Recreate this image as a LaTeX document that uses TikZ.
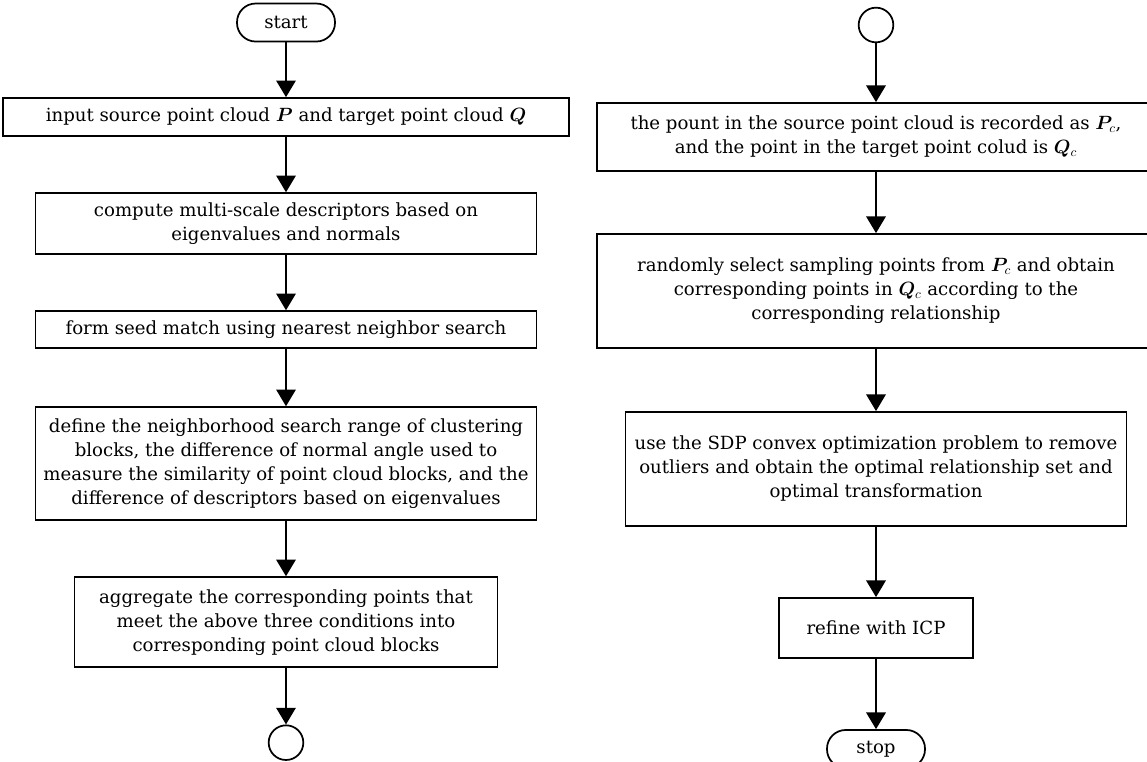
\documentclass[tikz,border=0pt]{standalone}
\usepackage{bm}
\usepackage{fontspec}
\setmainfont{DejaVu Serif}
\usepackage{tikz}
\usetikzlibrary{shapes,arrows.meta,calc}
\tikzstyle{line} = [draw, line width=1.7pt, -{Triangle[width=14.5pt,length=12.5pt]}]
\tikzstyle{block} = [draw, line width=1.3pt, rectangle, align=center, inner sep=0pt, font=\fontsize{13.6}{18}\selectfont]
\tikzstyle{cloud} = [draw, line width=1.3pt, rectangle, rounded corners=14pt, minimum width=73.5pt, minimum height=28.5pt, inner sep=0pt, font=\fontsize{13.6}{18}\selectfont]
\tikzstyle{joint} = [draw, line width=1.3pt, circle, minimum size=26pt, inner sep=0pt]

\begin{document}
\begin{tikzpicture}[auto]
    \useasboundingbox (0,0) rectangle (860.25pt,-571.5pt);
        % left column
        \node[cloud] (origin) at (214.5pt,-16.9pt) {start};
        \node[block, below of=origin, node distance=70.9pt, minimum width=424.5pt, minimum height=28.5pt] (input) {input source point cloud $\bm{P}$ and target point cloud $\bm{Q}$};
        \node[block, below of=input, node distance=79.9pt, minimum width=375.75pt, minimum height=45.75pt] (descr) {compute multi-scale descriptors based on\\eigenvalues and normals};
        \node[block, below of=descr, node distance=79.5pt, minimum width=375.75pt, minimum height=27.75pt] (seed) {form seed match using nearest neighbor search};
        \node[block, below of=seed, node distance=100.5pt, minimum width=375.75pt, minimum height=84.75pt] (range) {define the neighborhood search range of clustering\\blocks, the difference of normal angle used to\\measure the similarity of point cloud blocks, and the\\difference of descriptors based on eigenvalues};
        \node[block, below of=range, node distance=118.9pt, minimum width=317.25pt, minimum height=67.5pt] (aggr) {aggregate the corresponding points that\\meet the above three conditions into\\corresponding point cloud blocks};
        \node[joint, below of=aggr, node distance=90.4pt] (linkout) {};
        % right column
        \node[joint] (linkin) at (657pt,-18.75pt) {};
        \node[block, below of=linkin, node distance=84pt, minimum width=418.5pt, minimum height=51pt] (record) {the pount in the source point cloud is recorded as $\bm{P}_{c}$,\\and the point in the target point colud is $\bm{Q}_{c}$};
        \node[block, below of=record, node distance=115.5pt, minimum width=418.5pt, minimum height=85.5pt] (sample) {randomly select sampling points from $\bm{P}_{c}$ and obtain\\corresponding points in $\bm{Q}_{c}$ according to the\\corresponding relationship};
        \node[block, below of=sample, node distance=133.5pt, minimum width=375.75pt, minimum height=85.5pt] (sdp) {use the SDP convex optimization problem to remove\\outliers and obtain the optimal relationship set and\\optimal transformation};
        \node[block, below of=sdp, node distance=119.25pt, minimum width=145.5pt, minimum height=45pt] (icp) {refine with ICP};
        \node[cloud, below of=icp, node distance=90.75pt] (stop) {stop};
        \path[line] (origin) -- (input);
        \path[line] (input) -- (descr);
        \path[line] (descr) -- (seed);
        \path[line] (seed) -- (range);
        \path[line] (range) -- (aggr);
        \path[line] (aggr) -- (linkout);
        \path[line] (linkin) -- (record);
        \path[line] (record) -- (sample);
        \path[line] (sample) -- (sdp);
        \path[line] (sdp) -- (icp);
        \path[line] (icp) -- (stop);
    \end{tikzpicture}
\end{document}
